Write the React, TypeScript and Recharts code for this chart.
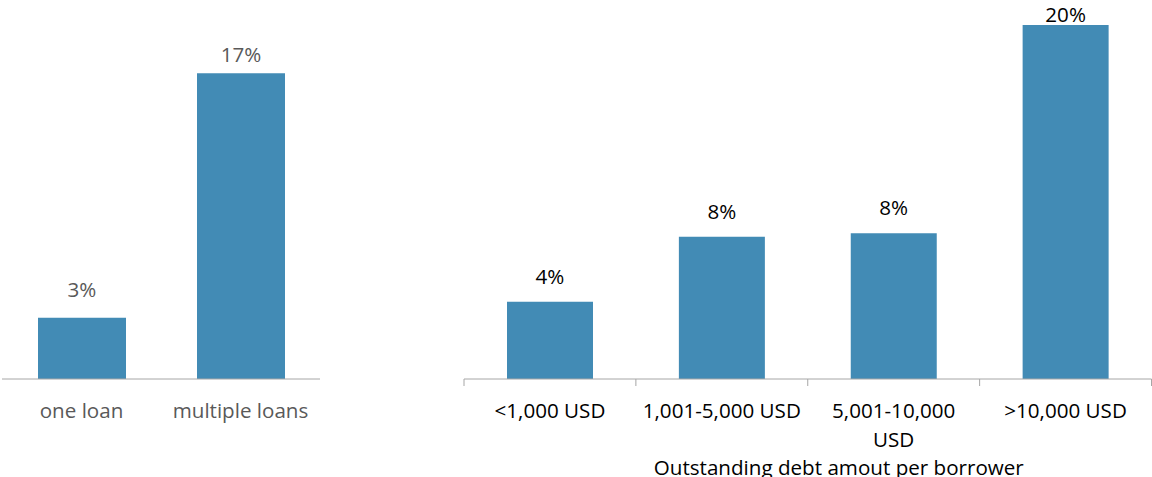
import React from "react";
import { BarChart, Bar, XAxis, YAxis, LabelList } from "recharts";

// ---- data ----
const loanCategories = ["one loan", "multiple loans"];
const loanValues = [3.46, 17.27];

const debtCategories = ["<1,000 USD", "1,001-5,000 USD", "5,001-10,000 USD", ">10,000 USD"];
const debtTickLines = [["<1,000 USD"], ["1,001-5,000 USD"], ["5,001-10,000", "USD"], [">10,000 USD"]];
const debtValues = [4.37, 8.04, 8.23, 20.0];
const debtAxisTitle = "Outstanding debt amout per borrower";

// ---- styling / layout ----
const FONT = '"Open Sans", "Noto Sans", sans-serif';
const FS = 20.6;
const BAR_COLOR = "#428BB5";
const AXIS_COLOR = "#A6A6A6";
const CHART_H = 477;
const AXIS_H = 98;
const TOP = 7.3;
const Y_MAX = 21;

const loanData = loanCategories.map((name, i) => ({ name, value: loanValues[i] }));
const debtData = debtCategories.map((name, i) => ({ name, value: debtValues[i], lines: debtTickLines[i] }));

function makeTick(color: string, band: number, bounds: boolean, count: number, lines?: string[][]) {
  return (props: any) => {
    const { x, y, payload, index } = props;
    const lns = lines ? lines[index] : [payload.value];
    return (
      <g>
        {bounds && (
          <line x1={x - band / 2} x2={x - band / 2} y1={y} y2={y + 7} stroke={AXIS_COLOR} strokeWidth={1} />
        )}
        {bounds && index === count - 1 && (
          <line x1={x + band / 2} x2={x + band / 2} y1={y} y2={y + 7} stroke={AXIS_COLOR} strokeWidth={1} />
        )}
        <text x={x} y={y + 39} textAnchor="middle" fill={color} fontSize={FS} fontFamily={FONT}>
          {lns.map((l: string, i: number) => (
            <tspan key={i} x={x} dy={i === 0 ? 0 : 28.5}>
              {l}
            </tspan>
          ))}
        </text>
      </g>
    );
  };
}

function makeValueLabel(color: string, offset: number, minBaseline: number) {
  return (props: any) => {
    const { x, y, width, value } = props;
    const by = Math.max(y - offset, minBaseline);
    return (
      <text x={x + width / 2} y={by} textAnchor="middle" fill={color} fontSize={FS} fontFamily={FONT}>
        {`${Math.round(value)}%`}
      </text>
    );
  };
}

export default function App() {
  const leftW = 330;
  const leftMargin = { top: TOP, right: 10, bottom: 0, left: 2 };
  const leftBand = (leftW - leftMargin.left - leftMargin.right) / loanCategories.length;

  const rightX = 450;
  const rightW = 702;
  const rightMargin = { top: TOP, right: 0.5, bottom: 0, left: 14 };
  const rightBand = (rightW - rightMargin.left - rightMargin.right) / debtCategories.length;

  return (
    <div
      style={{
        position: "absolute",
        left: 0,
        top: 0,
        width: 1152,
        height: CHART_H,
        background: "#fff",
        fontFamily: FONT,
        overflow: "hidden",
      }}
    >
      <div style={{ position: "absolute", left: 0, top: 0 }}>
        <BarChart width={leftW} height={CHART_H} data={loanData} margin={leftMargin}>
          <YAxis hide domain={[0, Y_MAX]} type="number" />
          <XAxis
            dataKey="name"
            height={AXIS_H}
            axisLine={{ stroke: AXIS_COLOR, strokeWidth: 1 }}
            tickLine={false}
            tickSize={0}
            tickMargin={0}
            interval={0}
            tick={makeTick("#595959", leftBand, false, loanCategories.length)}
          />
          <Bar dataKey="value" fill={BAR_COLOR} barSize={88} isAnimationActive={false}>
            <LabelList dataKey="value" content={makeValueLabel("#595959", 21, 62)} />
          </Bar>
        </BarChart>
      </div>
      <div style={{ position: "absolute", left: rightX, top: 0 }}>
        <BarChart width={rightW} height={CHART_H} data={debtData} margin={rightMargin}>
          <YAxis hide domain={[0, Y_MAX]} type="number" />
          <XAxis
            dataKey="name"
            height={AXIS_H}
            axisLine={{ stroke: AXIS_COLOR, strokeWidth: 1 }}
            tickLine={false}
            tickSize={0}
            tickMargin={0}
            interval={0}
            tick={makeTick("#000000", rightBand, true, debtCategories.length, debtTickLines)}
            label={{
              content: (p: any) => {
                const vb = p.viewBox || {};
                const cx = (vb.x ?? 0) + (vb.width ?? 0) / 2 + 31;
                return (
                  <text x={cx} y={475} textAnchor="middle" fill="#000" fontSize={FS} fontFamily={FONT}>
                    {debtAxisTitle}
                  </text>
                );
              },
            }}
          />
          <Bar dataKey="value" fill={BAR_COLOR} barSize={86} isAnimationActive={false}>
            <LabelList dataKey="value" content={makeValueLabel("#000000", 18, 21.5)} />
          </Bar>
        </BarChart>
      </div>
    </div>
  );
}
